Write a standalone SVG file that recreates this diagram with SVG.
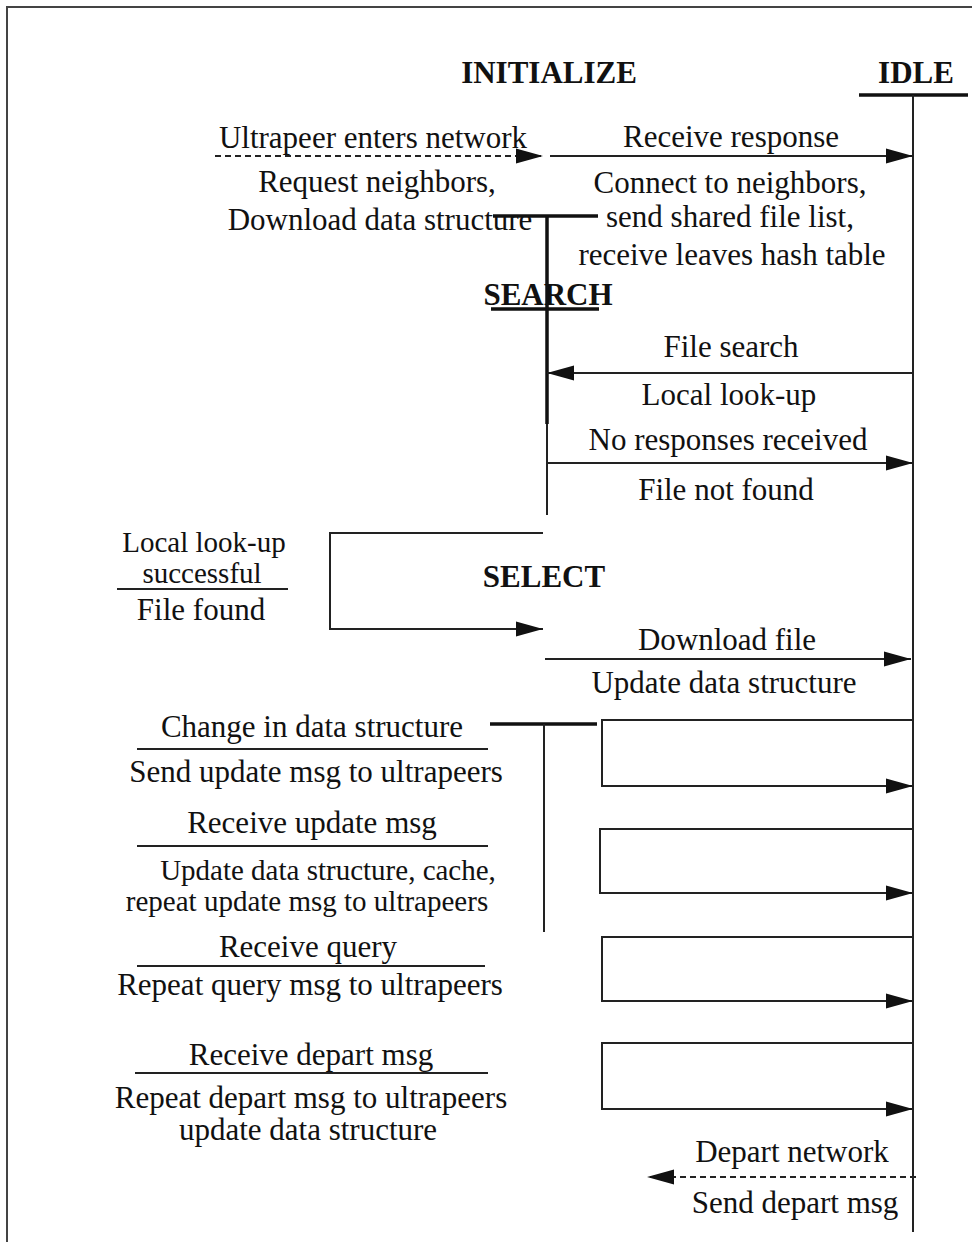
<svg xmlns="http://www.w3.org/2000/svg" width="972" height="1242" viewBox="0 0 972 1242">
<style>
text{font-family:"Liberation Serif","Times New Roman",serif;font-size:31px;fill:#111;text-anchor:middle}
.b{font-weight:bold}
.sm{font-size:29px}
.ln{stroke:#222;stroke-width:2;fill:none}
.thick{stroke:#111;stroke-width:3.5;fill:none}
.dash{stroke-dasharray:6 4}
</style>
<defs>
<marker id="ah" markerUnits="userSpaceOnUse" markerWidth="28" markerHeight="18" viewBox="0 0 28 18" refX="27" refY="9" orient="auto">
<path d="M0,1.5 L27,9 L0,16.5 Z" fill="#111"/>
</marker>
</defs>
<rect width="972" height="1242" fill="#fff"/>
<path d="M7,1242 V7 H972" stroke="#444" stroke-width="2" fill="none"/>

<g id="initialize">
<text class="b" x="549" y="83">INITIALIZE</text>
</g>

<g id="idle">
<text class="b" x="916" y="83">IDLE</text>
<line class="thick" x1="859" y1="95" x2="968" y2="95"/>
<line class="ln" x1="913" y1="95" x2="913" y2="1232"/>
</g>

<g id="search">
<line class="thick" x1="493" y1="216" x2="598" y2="216"/>
<text class="b" x="548" y="305">SEARCH</text>
<line class="thick" x1="491" y1="309" x2="599" y2="309"/>
<line class="thick" x1="547" y1="216" x2="547" y2="424"/>
<line class="ln" x1="547" y1="424" x2="547" y2="515"/>
</g>

<g id="select">
<text class="b" x="544" y="587">SELECT</text>
<line class="thick" x1="490" y1="724" x2="597" y2="724"/>
<line class="ln" x1="544" y1="724" x2="544" y2="932"/>
</g>

<g id="connectors">
<path class="ln dash" d="M215,156 H543" marker-end="url(#ah)"/>
<path class="ln" d="M550,156 H913" marker-end="url(#ah)"/>
<path class="ln" d="M913,373 H547" marker-end="url(#ah)"/>
<path class="ln" d="M547,463 H913" marker-end="url(#ah)"/>
<path class="ln" d="M543,533 H330 V629 H543" marker-end="url(#ah)"/>
<path class="ln" d="M545,659 H911" marker-end="url(#ah)"/>
<path class="ln" d="M913,720 H602 V786 H913" marker-end="url(#ah)"/>
<path class="ln" d="M913,829 H600 V893 H913" marker-end="url(#ah)"/>
<path class="ln" d="M913,937 H602 V1001 H913" marker-end="url(#ah)"/>
<path class="ln" d="M913,1043 H602 V1109 H913" marker-end="url(#ah)"/>
<path class="ln dash" d="M916,1177 H647" marker-end="url(#ah)"/>
</g>

<g id="labels">
<text x="373" y="148">Ultrapeer enters network</text>
<text x="731" y="147">Receive response</text>
<text x="377" y="192">Request neighbors,</text>
<text x="380" y="230">Download data structure</text>
<text x="730" y="193">Connect to neighbors,</text>
<text x="730" y="227">send shared file list,</text>
<text x="732" y="265">receive leaves  hash table</text>
<text x="731" y="357">File search</text>
<text x="729" y="405">Local look-up</text>
<text x="728" y="450">No responses received</text>
<text x="726" y="500">File not found</text>
<text class="sm" x="204" y="552">Local look-up</text>
<text class="sm" x="202" y="583">successful</text>
<line class="ln" x1="117" y1="589" x2="288" y2="589"/>
<text x="201" y="620">File found</text>
<text x="727" y="650">Download file</text>
<text x="724" y="693">Update data structure</text>
<text x="312" y="737">Change in data structure</text>
<line class="ln" x1="137" y1="749" x2="488" y2="749"/>
<text x="316" y="782">Send update msg to ultrapeers</text>
<text x="312" y="833">Receive update msg</text>
<line class="ln" x1="137" y1="846" x2="488" y2="846"/>
<text class="sm" x="328" y="880">Update data structure, cache,</text>
<text class="sm" x="307" y="911">repeat update msg to ultrapeers</text>
<text x="308" y="957">Receive query</text>
<line class="ln" x1="137" y1="966" x2="485" y2="966"/>
<text x="310" y="995">Repeat query msg to ultrapeers</text>
<text x="311" y="1065">Receive depart msg</text>
<line class="ln" x1="135" y1="1073" x2="488" y2="1073"/>
<text x="311" y="1108">Repeat depart msg to ultrapeers</text>
<text x="308" y="1140">update data structure</text>
<text x="792" y="1162">Depart network</text>
<text x="795" y="1213">Send depart msg</text>
</g>
</svg>
